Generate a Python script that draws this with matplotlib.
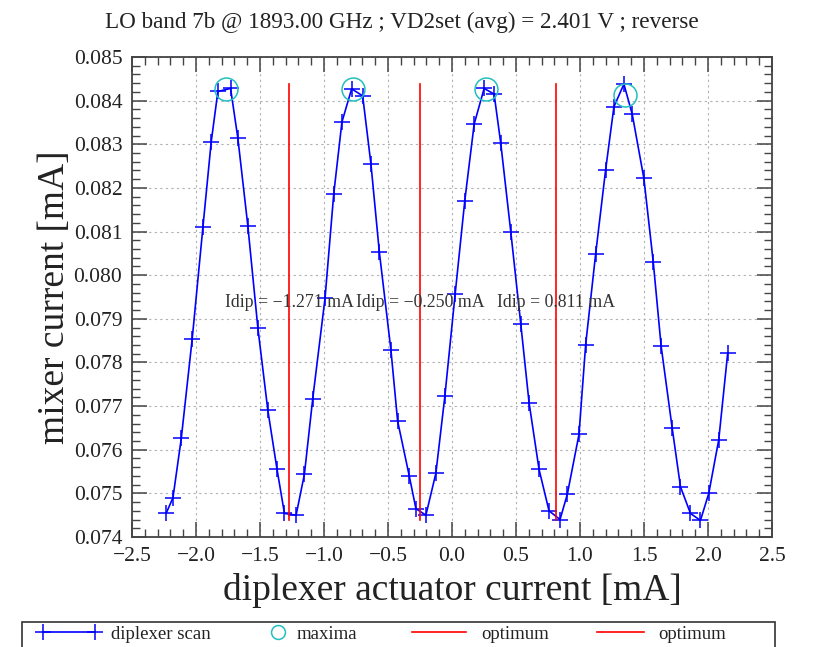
import matplotlib
matplotlib.use('Agg')
import matplotlib.pyplot as plt
from matplotlib.lines import Line2D
from matplotlib.patches import Rectangle
from matplotlib.ticker import MultipleLocator

# diplexer scan
scan_x = [-2.232, -2.180, -2.115, -2.030, -1.946, -1.881, -1.829, -1.730, -1.673, -1.595,
          -1.517, -1.439, -1.367, -1.309, -1.218, -1.153, -1.088, -0.992, -0.924, -0.860,
          -0.784, -0.698, -0.633, -0.568, -0.477, -0.425, -0.334, -0.282, -0.204, -0.126,
          -0.056, 0.025, 0.100, 0.173, 0.251, 0.329, 0.381, 0.459, 0.537, 0.602,
          0.680, 0.758, 0.844, 0.901, 0.992, 1.044, 1.122, 1.200, 1.265, 1.343,
          1.408, 1.499, 1.572, 1.634, 1.720, 1.785, 1.863, 1.941, 2.006, 2.084, 2.154]
scan_y = [0.07455, 0.07490, 0.07626, 0.07853, 0.08110, 0.08306, 0.08421, 0.08428, 0.08314, 0.08113,
          0.07880, 0.07691, 0.07555, 0.07454, 0.07450, 0.07544, 0.07717, 0.07947, 0.08186, 0.08351,
          0.08427, 0.08411, 0.08254, 0.08054, 0.07828, 0.07666, 0.07540, 0.07465, 0.07450, 0.07546,
          0.07722, 0.07958, 0.08171, 0.08346, 0.08428, 0.08415, 0.08302, 0.08100, 0.07889, 0.07708,
          0.07555, 0.07460, 0.07440, 0.07498, 0.07635, 0.07840, 0.08048, 0.08241, 0.08386, 0.08438,
          0.08369, 0.08222, 0.08031, 0.07837, 0.07650, 0.07515, 0.07454, 0.07438, 0.07500, 0.07623,
          0.07822]

max_x = [-1.769, -0.774, 0.269, 1.351]
max_y = [0.08426, 0.08426, 0.08426, 0.08413]

idip = [-1.271, -0.250, 0.811]

title = 'LO band 7b @ 1893.00 GHz ; VD2set (avg) = 2.401 V ; reverse'

plt.rcParams['font.family'] = ['Liberation Serif', 'DejaVu Serif']
plt.rcParams['axes.unicode_minus'] = True

fig = plt.figure(figsize=(8.18, 6.47), dpi=100)
ax = fig.add_axes([132 / 818, 110 / 647, 640 / 818, 480 / 647])

blue = '#0000ff'
red = '#ff0000'
cyan = '#22bfbf'

ax.plot(scan_x, scan_y, color=blue, lw=1.2, marker='+', ms=12, mew=1.1)
ax.plot(max_x, max_y, ls='none', marker='o', ms=16.5, mfc='none', mec=cyan, mew=1.1)

ylo, yhi = min(scan_y), max(scan_y)
for xv in idip:
    ax.plot([xv, xv], [ylo, yhi], color=red, lw=1.2)
    ax.text(xv, (ylo + yhi) / 2, ('Idip = %.3f mA' % xv).replace('-', '\u2212'),
            ha='center', va='center', fontsize=12.8, color='#333333')

ax.set_xlim(-2.5, 2.5)
ax.set_ylim(0.074, 0.085)
ax.xaxis.set_major_locator(MultipleLocator(0.5))
ax.xaxis.set_minor_locator(MultipleLocator(0.1))
ax.yaxis.set_major_locator(MultipleLocator(0.001))
ax.yaxis.set_minor_locator(MultipleLocator(0.0002))
ax.xaxis.set_major_formatter(plt.FuncFormatter(lambda v, p: ('%.1f' % v).replace('-', '\u2212')))
ax.yaxis.set_major_formatter(plt.FuncFormatter(lambda v, p: '%.3f' % v))

ax.tick_params(which='both', direction='in', top=True, right=True, color='#444444',
               labelsize=15.5, labelcolor='#222222')
ax.tick_params(which='major', length=11, width=1.1, pad=7)
ax.tick_params(which='minor', length=6, width=1.0)
for s in ax.spines.values():
    s.set_color('#444444')
    s.set_linewidth(1.3)

ax.grid(True, which='major', color='#b0b0b0', ls=(0, (2, 3)), lw=0.8)

ax.set_xlabel('diplexer actuator current [mA]', fontsize=27, color='#222222', labelpad=5)
ax.set_ylabel('mixer current [mA]', fontsize=27, color='#222222', labelpad=1)

fig.text(402 / 818, 1 - 22 / 647, title, ha='center', va='center', fontsize=16.7, color='#222222')

# legend row along the bottom edge
fig.add_artist(Rectangle((22 / 818, -0.05), 753 / 818, 0.05 + 25 / 647,
                         transform=fig.transFigure, fill=False, ec='#333333', lw=1.2))
entries = [
    (Line2D([], [], color=blue, lw=1.2, marker='+', ms=12, mew=1.1), 'diplexer scan', 37, 3.4, 0.55, 2),
    (Line2D([], [], ls='none', marker='o', ms=10, mfc='none', mec=cyan, mew=1.1), 'maxima', 269, 1.0, 0.45, 1),
    (Line2D([], [], color=red, lw=1.2), 'optimum', 412, 2.9, 0.8, 1),
    (Line2D([], [], color=red, lw=1.2), 'optimum', 597, 2.5, 0.75, 1),
]
for handle, label, xpx, hlen, tpad, npts in entries:
    fig.legend(handles=[handle], labels=[label], loc='center left',
               bbox_to_anchor=(xpx / 818, 13 / 647), frameon=False, fontsize=13.5,
               handlelength=hlen, handletextpad=tpad, numpoints=npts, borderpad=0,
               borderaxespad=0, labelcolor='#222222')

fig.savefig('out.png', dpi=100)
